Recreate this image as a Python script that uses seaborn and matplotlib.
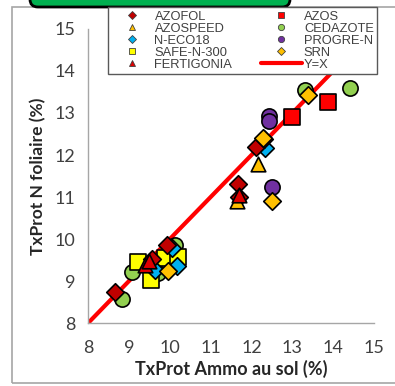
import matplotlib
matplotlib.use("Agg")
import matplotlib.pyplot as plt
import seaborn as sns
import pandas as pd
from matplotlib.lines import Line2D
from matplotlib.patches import FancyBboxPatch, Rectangle

sns.set_style("white")
plt.rcParams['font.family'] = ['Lato', 'DejaVu Sans']

products = ["AZOFOL", "AZOSPEED", "N-ECO18", "SAFE-N-300", "FERTIGONIA",
            "AZOS", "CEDAZOTE", "PROGRE-N", "SRN"]

azofol_x = [8.66, 9.56, 9.93, 11.68, 11.70, 12.12, 12.30]
azofol_y = [8.74, 9.52, 9.86, 11.30, 11.00, 12.18, 12.38]
azospeed_x = [11.64, 12.15]
azospeed_y = [10.90, 11.78]
neco_x = [9.64, 10.05, 10.18, 12.33]
neco_y = [9.26, 9.79, 9.35, 12.17]
safe_x = [9.22, 9.54, 9.88, 10.20]
safe_y = [9.45, 9.02, 9.55, 9.57]
fert_x = [9.39, 9.50, 11.70]
fert_y = [9.38, 9.48, 11.05]
azos_x = [12.99, 13.87]
azos_y = [12.90, 13.26]
ceda_x = [8.83, 9.08, 9.71, 10.13, 13.31, 14.40]
ceda_y = [8.57, 9.21, 9.19, 9.86, 13.55, 13.60]
progre_x = [12.42, 12.42, 12.50]
progre_y = [12.92, 12.80, 11.24]
srn_x = [13.38, 12.50, 9.95, 12.28]
srn_y = [13.42, 10.90, 9.25, 12.40]

xs = [azofol_x, azospeed_x, neco_x, safe_x, fert_x, azos_x, ceda_x, progre_x, srn_x]
ys = [azofol_y, azospeed_y, neco_y, safe_y, fert_y, azos_y, ceda_y, progre_y, srn_y]

colors = {"AZOFOL": "#C00000", "AZOSPEED": "#FFC000", "N-ECO18": "#00B0F0",
          "SAFE-N-300": "#FFFF00", "FERTIGONIA": "#E00000", "AZOS": "#FF0000",
          "CEDAZOTE": "#92D050", "PROGRE-N": "#7030A0", "SRN": "#FFC000"}
markers = {"AZOFOL": "D", "AZOSPEED": "^", "N-ECO18": "D", "SAFE-N-300": "s",
           "FERTIGONIA": "^", "AZOS": "s", "CEDAZOTE": "o", "PROGRE-N": "o", "SRN": "D"}
sizes = {"D": 80, "^": 110, "s": 130, "o": 120}

rows = []
for p, xv, yv in zip(products, xs, ys):
    for a, b in zip(xv, yv):
        rows.append({"product": p, "x": a, "y": b})
df = pd.DataFrame(rows)

line_x = [8, 15]
line_y = [8, 15]

fig = plt.figure(figsize=(3.95, 3.86), dpi=100)
ax = fig.add_axes([0.223, 0.163, 0.724, 0.762])

sns.lineplot(x=line_x, y=line_y, color="#FF0000", linewidth=3, ax=ax, zorder=2)

draw_order = ["CEDAZOTE", "PROGRE-N", "AZOS", "SAFE-N-300", "N-ECO18",
              "AZOFOL", "AZOSPEED", "FERTIGONIA", "SRN"]
for p in draw_order:
    sub = df[df["product"] == p]
    m = markers[p]
    sns.scatterplot(data=sub, x="x", y="y", marker=m, s=sizes[m],
                    color=colors[p], edgecolor="black", linewidth=1.2,
                    ax=ax, zorder=3, legend=False)

ax.set_xlim(8, 15)
ax.set_ylim(8, 15)
ax.set_xticks(range(8, 16))
ax.set_yticks(range(8, 16))
for s in ["top", "right"]:
    ax.spines[s].set_visible(False)
for s in ["left", "bottom"]:
    ax.spines[s].set_color("#A6A6A6")
    ax.spines[s].set_linewidth(1)
ax.tick_params(axis="both", direction="out", length=5, width=1, color="#A6A6A6",
               labelsize=13, labelcolor="#404040", pad=4)
ax.tick_params(axis="x", pad=7)
ax.set_xlabel("TxProt Ammo au sol (%)", fontsize=13, fontweight="bold",
              color="#262626", labelpad=3)
ax.set_ylabel("TxProt N foliaire (%)", fontsize=12.5, fontweight="bold",
              color="#262626", labelpad=6)

handles = []
labels = []
for p in ["AZOFOL", "AZOSPEED", "N-ECO18", "SAFE-N-300", "FERTIGONIA",
          "AZOS", "CEDAZOTE", "PROGRE-N", "SRN"]:
    m = markers[p]
    handles.append(Line2D([], [], linestyle="none", marker=m, markersize=4.5,
                          markerfacecolor=colors[p], markeredgecolor="#404040",
                          markeredgewidth=0.6))
    labels.append(p)
handles.append(Line2D([], [], color="#FF0000", linewidth=3))
labels.append("Y=X")

leg = fig.legend(handles, labels, ncol=2, loc="upper left",
                 bbox_to_anchor=(0.2734, 0.795, 0.681, 0.186), mode="expand",
                 frameon=True, fancybox=False, framealpha=1, edgecolor="#595959",
                 handlelength=3.2, handletextpad=0.15,
                 labelspacing=0.0, borderpad=0.25, borderaxespad=0,
                 columnspacing=1.0,
                 prop={"family": "Liberation Sans", "size": 9.3})
leg.get_frame().set_linewidth(1.0)
for t in leg.get_texts():
    t.set_color("#404040")
leg.set_zorder(5)

# figure frame and title box
fig.patches.append(Rectangle((12 / 395, 3 / 386), 1.1, (383 - 7) / 386,
                             transform=fig.transFigure, fill=False,
                             edgecolor="#A6A6A6", linewidth=1.2, zorder=0))
fig.patches.append(FancyBboxPatch((30 / 395, 1 - 7 / 386), 260 / 395, 20 / 386,
                                  boxstyle="round,pad=0,rounding_size=0.02",
                                  transform=fig.transFigure, facecolor="#00B050",
                                  edgecolor="black", linewidth=2, zorder=1))

fig.savefig("out.png", dpi=100)
